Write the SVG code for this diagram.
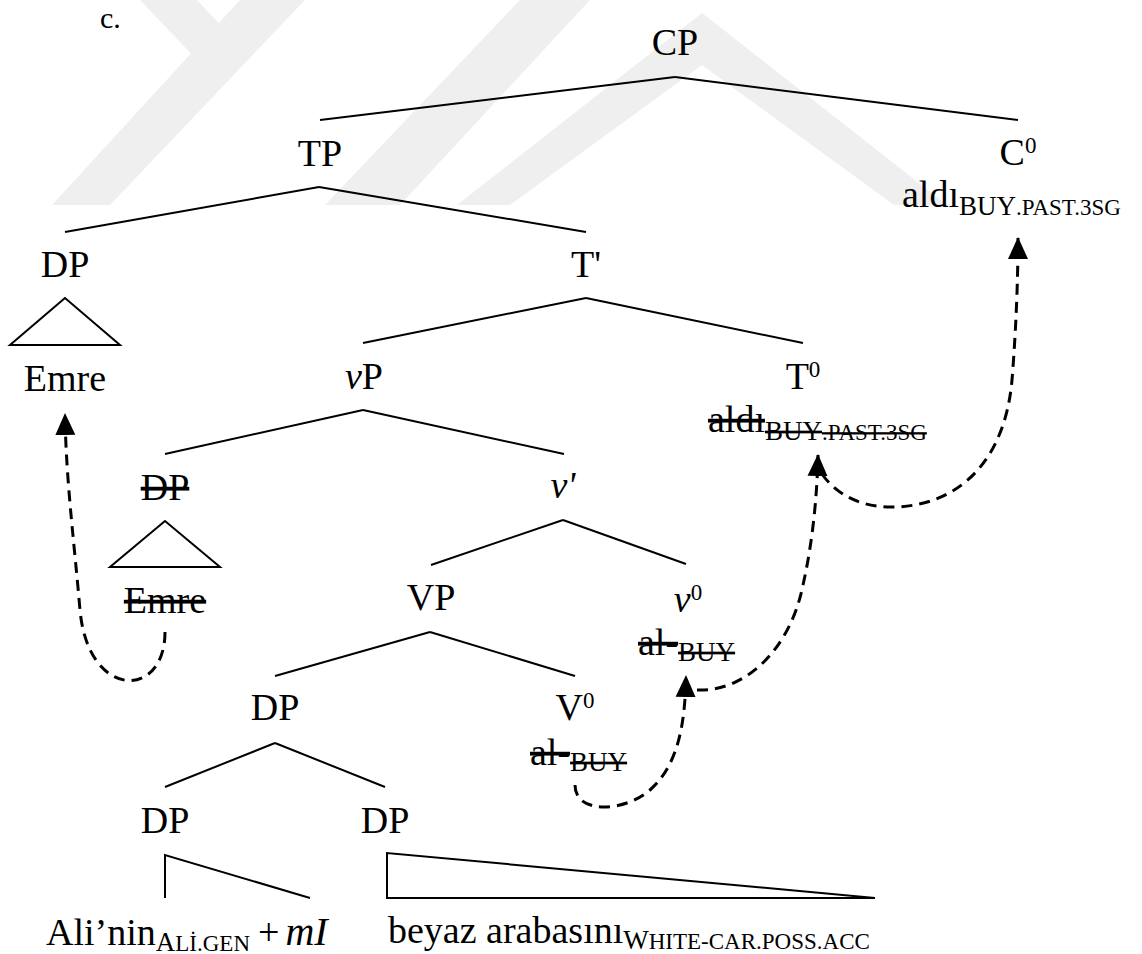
<svg xmlns="http://www.w3.org/2000/svg" width="1142" height="954" viewBox="0 0 1142 954">
<style>
.t{font-family:"Liberation Serif","Times New Roman",serif;font-size:38px;fill:#000}
.c{font-size:30px}
.sub{font-size:27px}
.sc{font-size:23px}
.sup{font-size:23px}
.it{font-style:italic}
.s{text-decoration:line-through}
.edge{stroke:#000;stroke-width:2;fill:none}
.tri{stroke:#000;stroke-width:2;fill:none;stroke-linejoin:miter}
.mv{stroke:#000;stroke-width:3;fill:none;stroke-dasharray:11 7}
.wm{fill:#efefef}
</style>
<defs>
<marker id="ah" markerUnits="userSpaceOnUse" markerWidth="22" markerHeight="22" viewBox="0 0 22 22" refX="21" refY="11" orient="auto">
<path d="M0,1 L22,11 L0,21 z" fill="#000"/>
</marker>
</defs>
<rect width="1142" height="954" fill="#fff"/>
<g id="watermark">
<polygon class="wm" points="140,0 197,0 228,33 200,63"/>
<polygon class="wm" points="52,205 110,205 305,0 240,0"/>
<polygon class="wm" points="325,205 400,205 590,0 520,0"/>
<polygon class="wm" points="457,205 702,13 947,205 894,205 702,65 510,205"/>
</g>
<text class="t c" x="100" y="28">c.</text>
<g id="connectors">
<line class="edge" x1="675" y1="77" x2="320" y2="120"/>
<line class="edge" x1="675" y1="77" x2="1018" y2="120"/>
<line class="edge" x1="319" y1="187" x2="65" y2="232"/>
<line class="edge" x1="319" y1="187" x2="586" y2="232"/>
<line class="edge" x1="586" y1="298" x2="363" y2="343"/>
<line class="edge" x1="586" y1="298" x2="803" y2="343"/>
<line class="edge" x1="363" y1="410" x2="165" y2="454"/>
<line class="edge" x1="363" y1="410" x2="564" y2="454"/>
<line class="edge" x1="563" y1="520" x2="431" y2="565"/>
<line class="edge" x1="563" y1="520" x2="686" y2="564"/>
<line class="edge" x1="430" y1="632" x2="275" y2="676"/>
<line class="edge" x1="430" y1="632" x2="575" y2="676"/>
<line class="edge" x1="275" y1="743" x2="165" y2="787"/>
<line class="edge" x1="275" y1="743" x2="385" y2="787"/>
<path class="mv" d="M165,632 C165,700 88,700 80,610 C74,540 66,480 65,414" marker-end="url(#ah)"/>
<path class="mv" d="M575,785 C575,815 625,812 650,790 C678,765 685,725 686,676" marker-end="url(#ah)"/>
<path class="mv" d="M697,690 C745,692 790,650 803,585 C812,545 817,500 818,455" marker-end="url(#ah)"/>
<path class="mv" d="M822,474 C840,500 870,508 895,507 C960,505 1005,460 1012,380 C1016,330 1018,280 1018,238" marker-end="url(#ah)"/>
</g>
<g id="CP"><text class="t" x="675" y="55" text-anchor="middle">CP</text></g>
<g id="TP"><text class="t" x="320" y="166" text-anchor="middle">TP</text></g>
<g id="C0">
<text class="t" x="1018" y="165" text-anchor="middle">C<tspan class="sup" dy="-12">0</tspan></text>
<text class="t" x="902" y="207">aldı<tspan class="sub" dy="8">BUY</tspan><tspan class="sc">.PAST.3SG</tspan></text>
</g>
<g id="DP-subj">
<text class="t" x="65" y="277" text-anchor="middle">DP</text>
<polygon class="tri" points="65,298 10,345 120,345"/>
<text class="t" x="65" y="391" text-anchor="middle">Emre</text>
</g>
<g id="Tbar"><text class="t" x="586" y="277" text-anchor="middle">T'</text></g>
<g id="vP"><text class="t" x="364" y="389" text-anchor="middle"><tspan class="it">v</tspan>P</text></g>
<g id="T0">
<text class="t" x="803" y="389" text-anchor="middle">T<tspan class="sup" dy="-12">0</tspan></text>
<text class="t" x="708" y="432"><tspan class="s">aldı</tspan><tspan class="sub s" dy="8">BUY</tspan><tspan class="sc s">.PAST.3SG</tspan></text>
</g>
<g id="DP-trace">
<text class="t s" x="165" y="500" text-anchor="middle">DP</text>
<polygon class="tri" points="165,521 110,567 220,567"/>
<text class="t s" x="165" y="613" text-anchor="middle">Emre</text>
</g>
<g id="vbar"><text class="t it" x="563" y="498" text-anchor="middle">v'</text></g>
<g id="VP"><text class="t" x="431" y="610" text-anchor="middle">VP</text></g>
<g id="v0">
<text class="t" x="688" y="612" text-anchor="middle"><tspan class="it">v</tspan><tspan class="sup" dy="-12">0</tspan></text>
<text class="t" x="638" y="655"><tspan class="s">al-</tspan><tspan class="sub s" dy="6">BUY</tspan></text>
</g>
<g id="DP-obj"><text class="t" x="275" y="720" text-anchor="middle">DP</text></g>
<g id="V0">
<text class="t" x="575" y="720" text-anchor="middle">V<tspan class="sup" dy="-12">0</tspan></text>
<text class="t" x="530" y="765"><tspan class="s">al-</tspan><tspan class="sub s" dy="6">BUY</tspan></text>
</g>
<g id="DP-poss">
<text class="t" x="165" y="833" text-anchor="middle">DP</text>
<polyline class="tri" points="165,898 165,855 310,898"/>
<text class="t" x="46" y="945">Ali’nin<tspan class="sub" dy="6">A</tspan><tspan class="sc">Lİ.GEN</tspan><tspan dx="8" dy="-6">+</tspan><tspan class="it" dx="6" style="font-size:40px">mI</tspan></text>
</g>
<g id="DP-np">
<text class="t" x="385" y="833" text-anchor="middle">DP</text>
<polygon class="tri" points="387,853 387,898 875,898"/>
<text class="t" x="388" y="943">beyaz arabasını<tspan class="sub" dy="6">W</tspan><tspan class="sc">HITE-CAR.POSS.ACC</tspan></text>
</g>
</svg>
